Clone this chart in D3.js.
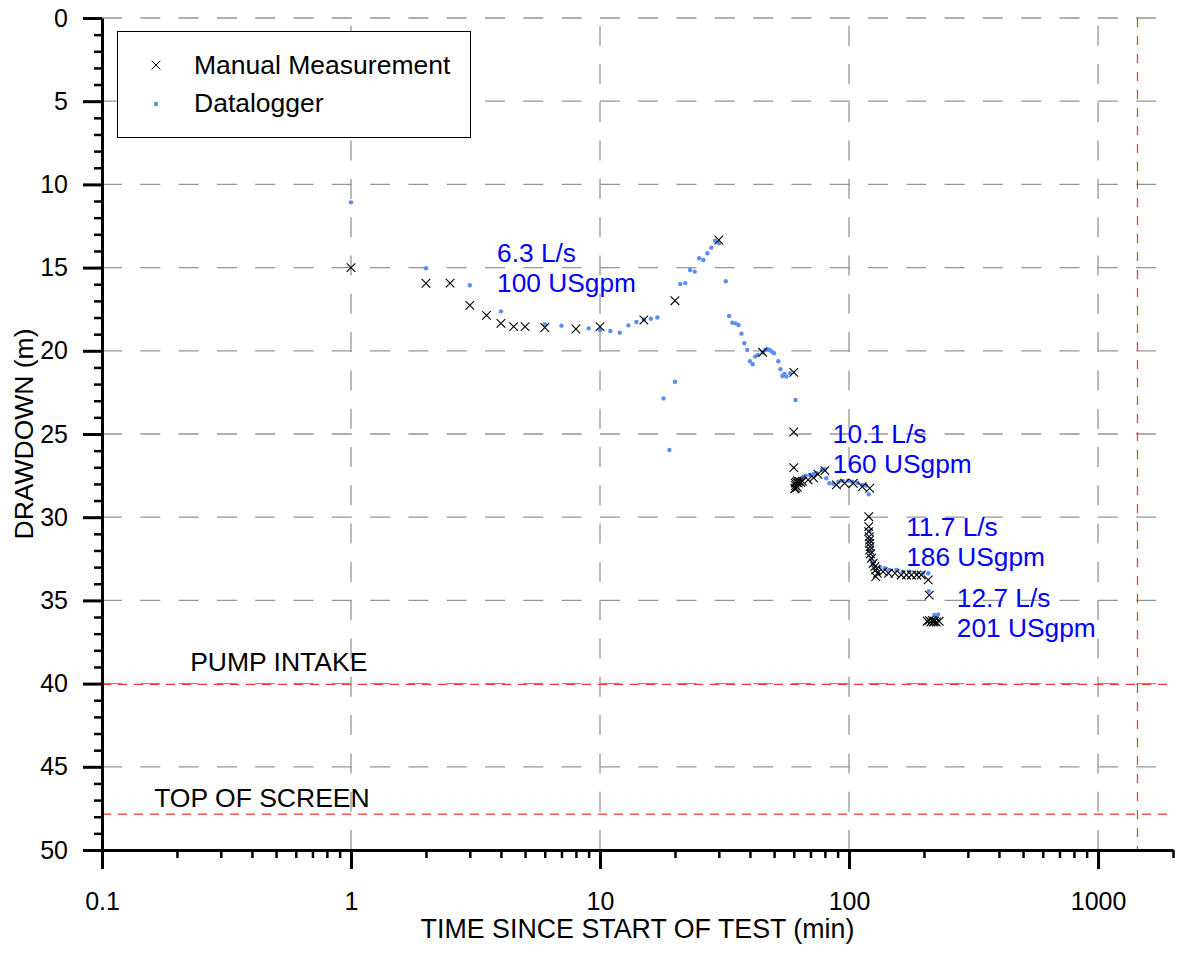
<!DOCTYPE html>
<html>
<head>
<meta charset="utf-8">
<script src="https://cdn.jsdelivr.net/npm/d3@7"></script>
<style>
  body { margin: 0; background: #fff; }
  svg { display: block; font-family: "Liberation Sans", Arial, sans-serif; }
</style>
</head>
<body>
<div id="chart"></div>
<script>
// manual measurements [time (min), drawdown (m)]
const manualData = [
  [1, 15.0], [2, 15.94], [2.5, 15.93], [3, 17.27], [3.5, 17.87], [4, 18.35], [4.5, 18.55],
  [5, 18.55], [6, 18.6], [8, 18.69], [10, 18.55], [15, 18.15], [20, 16.99], [30, 13.34],
  [45, 20.09], [60, 21.3], [60, 24.88], [60, 27.02],
  [60.5, 28.3], [61, 28.1], [61.5, 27.9], [62, 28.2], [62.5, 27.95], [63, 27.85], [64, 27.9],
  [61, 28.25], [60.8, 27.95], [62, 27.8], [65, 27.85],
  [68.5, 27.76], [72, 27.63], [75, 27.42], [80, 27.2],
  [89, 28.06], [96, 27.96], [104, 27.96], [113, 28.17], [121, 28.26],
  [120, 29.97], [120, 30.57], [120, 30.87], [120.5, 31.17], [121, 31.37], [121, 31.57],
  [121.5, 31.77], [121, 31.97], [122, 32.2], [123, 32.47], [125, 32.77], [127, 32.97],
  [128, 33.17], [130, 33.37], [128, 33.57],
  [137, 33.27], [144, 33.37], [153, 33.37], [162, 33.47], [170, 33.47], [178, 33.47],
  [187, 33.47], [195, 33.47], [208, 33.77], [210, 34.68],
  [206, 36.25], [210, 36.2], [213, 36.3], [216, 36.2], [220, 36.25], [224, 36.3], [230, 36.25], [218, 36.3]
];

// datalogger readings [time (min), drawdown (m)]
const loggerData = [
  [1, 11.08], [2, 15.04], [3, 16.06], [4, 17.63], [6, 18.41], [7, 18.49], [9, 18.65],
  [10, 18.75], [11, 18.81], [12, 18.91], [13, 18.47], [14, 18.27], [15, 18.12], [16, 18.07],
  [17, 18.0], [18, 22.86], [19, 25.96], [20, 21.86], [21, 15.98], [22, 15.93], [23, 15.14],
  [24, 15.24], [25, 14.44], [26, 14.54], [27, 14.14], [28, 13.8], [29, 13.38], [30, 13.54],
  [32, 15.82], [33, 17.91], [34, 18.31], [35, 18.35], [36, 18.45], [37, 18.97], [38, 19.55],
  [39, 19.95], [40, 20.63], [41, 20.81], [42, 20.35], [43, 20.25], [45, 20.1], [46, 19.95],
  [47, 19.91], [48, 19.95], [49, 20.05], [50, 20.15], [52, 20.63], [53, 21.11], [54, 21.51],
  [55, 21.39], [56, 21.55], [58, 21.35], [61, 22.96],
  [62, 27.9], [63, 27.7], [65.6, 27.56], [67, 27.5], [69.6, 27.46], [72, 27.4], [74.3, 27.36],
  [77.9, 27.16], [80, 27.1], [81, 27.66], [83.4, 27.96], [86.6, 28.0], [90.6, 27.87],
  [94.4, 27.82], [99, 27.82], [103, 27.87], [108, 27.93], [113, 28.06], [117, 28.1], [120, 28.62],
  [121, 30.83], [121, 31.4], [122, 32.0], [123, 32.5], [125, 32.8],
  [133, 32.97], [139, 33.07], [145, 33.17], [155, 33.17], [164, 33.27], [175, 33.27],
  [187, 33.37], [198, 33.37], [208, 33.37], [209, 34.44], [220, 35.88], [225, 35.94], [228, 35.84]
];

// pumping rate annotations [time, drawdown, line1, line2]
const rateLabels = [
  [3.86, 14.66, "6.3 L/s", "100 USgpm"],
  [86.1, 25.54, "10.1 L/s", "160 USgpm"],
  [169.6, 31.13, "11.7 L/s", "186 USgpm"],
  [271, 35.4, "12.7 L/s", "201 USgpm"]
];

// reference levels
const refLevels = [
  { depth: 40.05, label: "PUMP INTAKE", labelT: 0.226, labelD: 39.24 },
  { depth: 47.85, label: "TOP OF SCREEN", labelT: 0.162, labelD: 47.42 }
];
const dayMark = 1440;

const xTickValues = [0.1, 1, 10, 100, 1000];
const xTickLabels = ["0.1", "1", "10", "100", "1000"];
const yTickValues = [0, 5, 10, 15, 20, 25, 30, 35, 40, 45, 50];
const xTitle = "TIME SINCE START OF TEST (min)";
const yTitle = "DRAWDOWN (m)";
const seriesNames = ["Manual Measurement", "Datalogger"];

const width = 1177, height = 953;
const margin = { top: 18, right: 4, bottom: 103, left: 102 };

const svg = d3.select("#chart").append("svg")
  .attr("width", width).attr("height", height);

const x = d3.scaleLog()
  .domain([0.1, 2000])
  .range([margin.left, width - margin.right]);

const y = d3.scaleLinear()
  .domain([0, 50])
  .range([margin.top, height - margin.bottom]);

const blue = "#5b8ef5";

// grid
const grid = svg.append("g")
  .attr("stroke", "#959595")
  .attr("stroke-width", 1.3)
  .attr("stroke-dasharray", "20,18.3");

grid.selectAll(".hg")
  .data(yTickValues.filter(d => d < 50))
  .join("line")
  .attr("x1", x(0.1)).attr("x2", x(2000))
  .attr("y1", d => y(d)).attr("y2", d => y(d));

grid.selectAll(".vg")
  .data(xTickValues.filter(d => d > 0.1))
  .join("line")
  .attr("x1", d => x(d)).attr("x2", d => x(d))
  .attr("y1", y(50)).attr("y2", y(0));

// reference lines
svg.append("g")
  .attr("stroke", "#ff3030")
  .attr("stroke-width", 1.2)
  .attr("stroke-dasharray", "9,7")
  .selectAll("line")
  .data(refLevels)
  .join("line")
  .attr("x1", x(0.1)).attr("x2", x(2000))
  .attr("y1", d => y(d.depth)).attr("y2", d => y(d.depth));

svg.append("line")
  .attr("stroke", "#ff3030")
  .attr("stroke-width", 1.2)
  .attr("stroke-dasharray", "9,9")
  .attr("x1", x(dayMark)).attr("x2", x(dayMark))
  .attr("y1", y(0)).attr("y2", y(50));

svg.append("g")
  .attr("font-size", 26.5)
  .attr("fill", "#000")
  .selectAll("text")
  .data(refLevels)
  .join("text")
  .attr("x", d => x(d.labelT))
  .attr("y", d => y(d.labelD))
  .text(d => d.label);

// axes
const minorX = [];
[0.1, 1, 10, 100].forEach(base => {
  for (let k = 2; k <= 9; k++) minorX.push(base * k);
});
minorX.push(1000 * 2);

const minorY = d3.range(0, 51).filter(d => d % 5 !== 0);

const xAxis = g => g
  .attr("transform", `translate(0,${y(50)})`)
  .call(d3.axisBottom(x).tickValues(xTickValues)
    .tickFormat((d, i) => xTickLabels[i])
    .tickSize(19).tickSizeOuter(0).tickPadding(23))
  .call(g => g.select(".domain").attr("stroke-width", 3))
  .call(g => g.selectAll(".tick line").attr("stroke-width", 3))
  .call(g => g.selectAll(".tick text").attr("font-size", 25).attr("font-family", "Liberation Sans, Arial, sans-serif"));

const xMinor = g => g
  .attr("transform", `translate(0,${y(50)})`)
  .call(d3.axisBottom(x).tickValues(minorX).tickFormat("").tickSize(8).tickSizeOuter(0))
  .call(g => g.select(".domain").remove())
  .call(g => g.selectAll(".tick line").attr("stroke-width", 2.5));

const yAxis = g => g
  .attr("transform", `translate(${x(0.1)},0)`)
  .call(d3.axisLeft(y).tickValues(yTickValues)
    .tickSize(19).tickSizeOuter(0).tickPadding(15))
  .call(g => g.select(".domain").attr("stroke-width", 3))
  .call(g => g.selectAll(".tick line").attr("stroke-width", 3))
  .call(g => g.selectAll(".tick text").attr("font-size", 25).attr("font-family", "Liberation Sans, Arial, sans-serif"));

const yMinor = g => g
  .attr("transform", `translate(${x(0.1)},0)`)
  .call(d3.axisLeft(y).tickValues(minorY).tickFormat("").tickSize(8).tickSizeOuter(0))
  .call(g => g.select(".domain").remove())
  .call(g => g.selectAll(".tick line").attr("stroke-width", 2.5));

svg.append("g").call(xMinor);
svg.append("g").call(yMinor);
svg.append("g").call(xAxis);
svg.append("g").call(yAxis);

// axis titles
svg.append("text")
  .attr("x", (x(0.1) + x(2000)) / 2)
  .attr("y", 938)
  .attr("text-anchor", "middle")
  .attr("font-size", 26.8)
  .text(xTitle);

svg.append("text")
  .attr("transform", `translate(33,${(y(0) + y(50)) / 2}) rotate(-90)`)
  .attr("text-anchor", "middle")
  .attr("font-size", 26.5)
  .text(yTitle);

// data
const xMark = "M-4.3,-4.3L4.3,4.3M4.3,-4.3L-4.3,4.3";

svg.append("g")
  .attr("fill", blue)
  .selectAll("circle")
  .data(loggerData)
  .join("circle")
  .attr("cx", d => x(d[0]))
  .attr("cy", d => y(d[1]))
  .attr("r", 2.2);

svg.append("g")
  .attr("stroke", "#000")
  .attr("stroke-width", 1.1)
  .attr("fill", "none")
  .selectAll("path")
  .data(manualData)
  .join("path")
  .attr("transform", d => `translate(${x(d[0])},${y(d[1])})`)
  .attr("d", xMark);

// rate labels
const rl = svg.append("g")
  .attr("fill", "#0000ff")
  .attr("font-size", 26.3)
  .selectAll("text")
  .data(rateLabels)
  .join("text")
  .attr("x", d => x(d[0]))
  .attr("y", d => y(d[1]));
rl.append("tspan").text(d => d[2]);
rl.append("tspan")
  .attr("x", d => x(d[0]))
  .attr("dy", 30)
  .text(d => d[3]);

// legend
const legend = svg.append("g");
legend.append("rect")
  .attr("x", 117.5).attr("y", 31.5)
  .attr("width", 353).attr("height", 106)
  .attr("fill", "#fff")
  .attr("stroke", "#000")
  .attr("stroke-width", 1);

legend.append("path")
  .attr("transform", "translate(156,65)")
  .attr("d", xMark)
  .attr("stroke", "#000")
  .attr("fill", "none");
legend.append("circle")
  .attr("cx", 156).attr("cy", 104).attr("r", 2.2)
  .attr("fill", blue);

legend.selectAll("text")
  .data(seriesNames)
  .join("text")
  .attr("x", 194)
  .attr("y", (d, i) => 74 + i * 38)
  .attr("font-size", 26.5)
  .text(d => d);
</script>
</body>
</html>
